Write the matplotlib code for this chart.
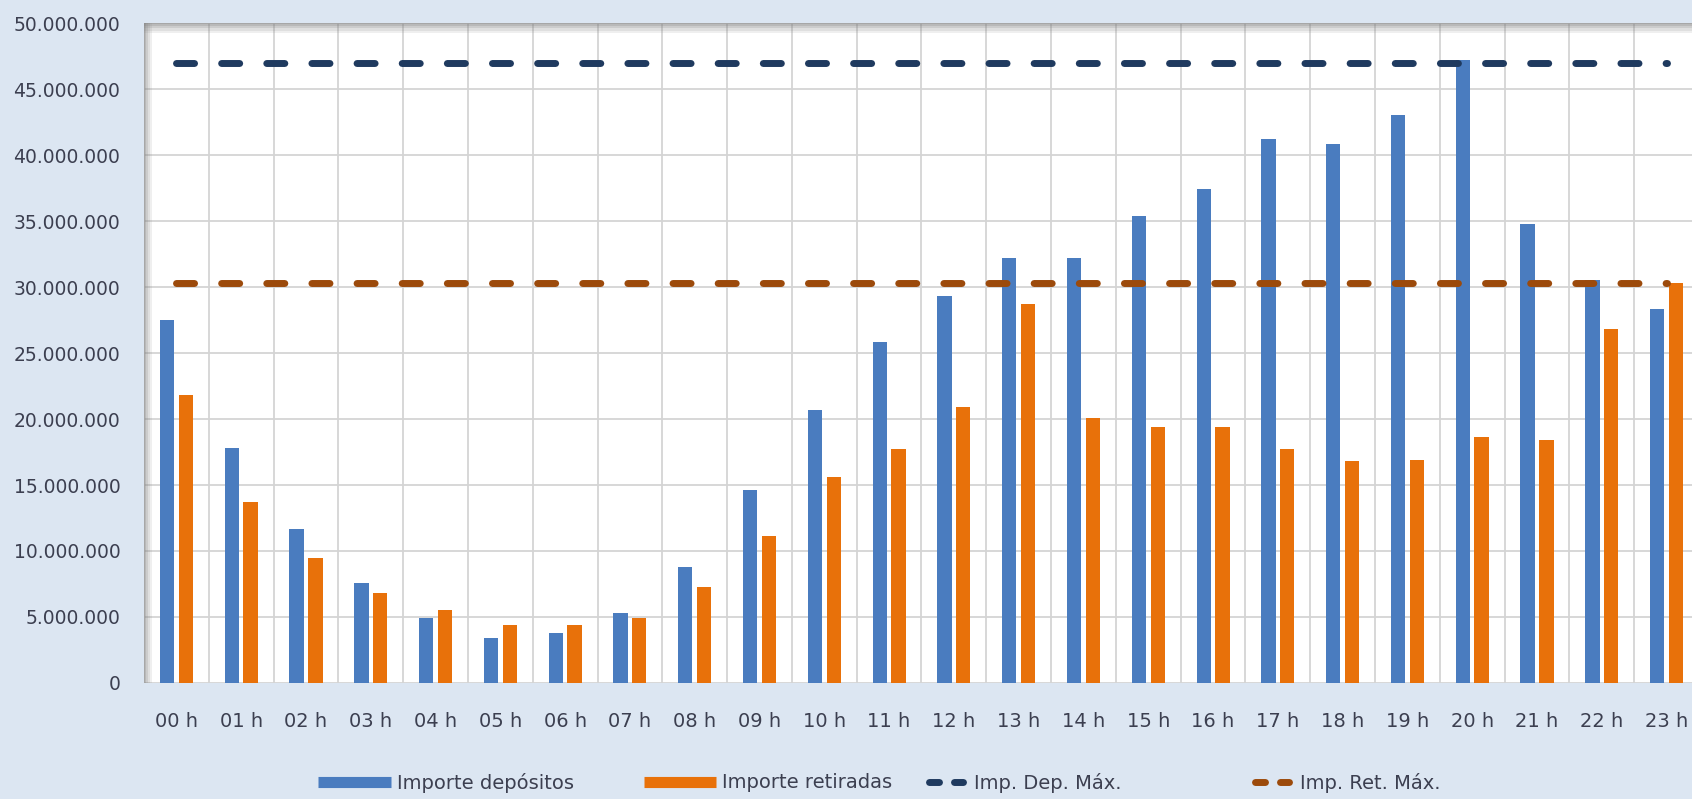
import matplotlib
matplotlib.use("Agg")
import matplotlib.pyplot as plt
import matplotlib.patches as mpatches
from matplotlib.lines import Line2D
from matplotlib.ticker import FuncFormatter
import numpy as np

# datos: importes por hora del día
horas = [f"{h:02d} h" for h in range(24)]
importe_depositos = [
    27.5e6, 17.8e6, 11.7e6, 7.6e6, 4.9e6, 3.4e6, 3.8e6, 5.3e6,
    8.8e6, 14.6e6, 20.7e6, 25.8e6, 29.3e6, 32.2e6, 32.2e6, 35.4e6,
    37.4e6, 41.2e6, 40.8e6, 43.0e6, 47.2e6, 34.8e6, 30.5e6, 28.3e6,
]
importe_retiradas = [
    21.8e6, 13.7e6, 9.5e6, 6.8e6, 5.5e6, 4.4e6, 4.4e6, 4.9e6,
    7.3e6, 11.1e6, 15.6e6, 17.7e6, 20.9e6, 28.7e6, 20.1e6, 19.4e6,
    19.4e6, 17.7e6, 16.8e6, 16.9e6, 18.6e6, 18.4e6, 26.8e6, 30.3e6,
]
imp_dep_max = 47.0e6
imp_ret_max = 30.3e6

COLORS = {
    "dep": "#4A7CBF",
    "ret": "#E8710A",
    "dep_max": "#1F3A5F",
    "ret_max": "#9C4A0B",
    "bg": "#DCE6F2",
    "grid": "#D4D4D4",
    "text": "#3C3F50",
}

W, H = 1692, 799
fig = plt.figure(figsize=(W / 100, H / 100), dpi=100, facecolor=COLORS["bg"])
ax = fig.add_axes([144 / W, (H - 683) / H, (1699 - 144) / W, (683 - 23) / H])
ax.set_facecolor("white")

x = np.arange(len(horas))
bar_w = 0.22
off = 0.145
ax.bar(x - off, importe_depositos, bar_w, color=COLORS["dep"], zorder=3)
ax.bar(x + off, importe_retiradas, bar_w, color=COLORS["ret"], zorder=3)

lw = 5
ax.plot(x, np.full(len(x), imp_dep_max), color=COLORS["dep_max"], lw=lw,
        dashes=(2.6, 3.9), dash_capstyle="round", zorder=4)
ax.plot(x, np.full(len(x), imp_ret_max), color=COLORS["ret_max"], lw=lw,
        dashes=(2.6, 3.9), dash_capstyle="round", zorder=4)

ax.set_xlim(-0.5, 23.5)
ax.set_ylim(0, 50e6)
ax.set_yticks(np.arange(0, 50e6 + 1, 5e6))
ax.yaxis.set_major_formatter(FuncFormatter(lambda v, p: f"{v:,.0f}".replace(",", ".")))
ax.set_xticks(x)
ax.set_xticklabels(horas)
ax.set_xticks(np.arange(-0.5, 24, 1), minor=True)

ax.tick_params(axis="y", length=0, pad=17, labelsize=13.5, labelcolor=COLORS["text"])
ax.tick_params(axis="x", which="both", length=0, pad=21, labelsize=14, labelcolor=COLORS["text"])
ax.grid(axis="y", which="major", color=COLORS["grid"], lw=1.3, zorder=0)
ax.grid(axis="x", which="minor", color=COLORS["grid"], lw=1.3, zorder=0)
ax.grid(axis="x", which="major", visible=False)
for s in ax.spines.values():
    s.set_visible(False)

# sombra del marco (arriba e izquierda)
for i, a in enumerate([0.55, 0.4, 0.25, 0.12]):
    ax.add_patch(mpatches.Rectangle((0, 1 - (i + 1) * 2.5 / 660), 1, 2.5 / 660,
                                    transform=ax.transAxes, color="#808080",
                                    alpha=a, lw=0, zorder=5, clip_on=False))
    ax.add_patch(mpatches.Rectangle((i * 2 / 1555, 0), 2 / 1555, 1,
                                    transform=ax.transAxes, color="#808080",
                                    alpha=a, lw=0, zorder=5, clip_on=False))

# leyenda: una entrada por caja para colocar cada una como en el original
leg_dash = (0, (1.44, 2.16))
entries = [
    (Line2D([], [], color=COLORS["dep"], lw=8, solid_capstyle="butt"),
     "Importe depósitos", 318, 3.75, 0.3),
    (Line2D([], [], color=COLORS["ret"], lw=8, solid_capstyle="butt"),
     "Importe retiradas", 644, 3.7, 0.3),
    (Line2D([], [], color=COLORS["dep_max"], lw=lw, ls=leg_dash, dash_capstyle="round"),
     "Imp. Dep. Máx.", 929, 1.75, 0.55),
    (Line2D([], [], color=COLORS["ret_max"], lw=lw, ls=leg_dash, dash_capstyle="round"),
     "Imp. Ret. Máx.", 1255, 1.75, 0.55),
]
for handle, label, x0, hl, pad in entries:
    fig.legend([handle], [label], loc="center left",
               bbox_to_anchor=(x0 / W, (H - 783) / H),
               frameon=False, fontsize=14, handlelength=hl, handletextpad=pad,
               borderpad=0, borderaxespad=0, labelcolor=COLORS["text"])

fig.savefig("out.png", dpi=100, facecolor=COLORS["bg"])
plt.close(fig)
